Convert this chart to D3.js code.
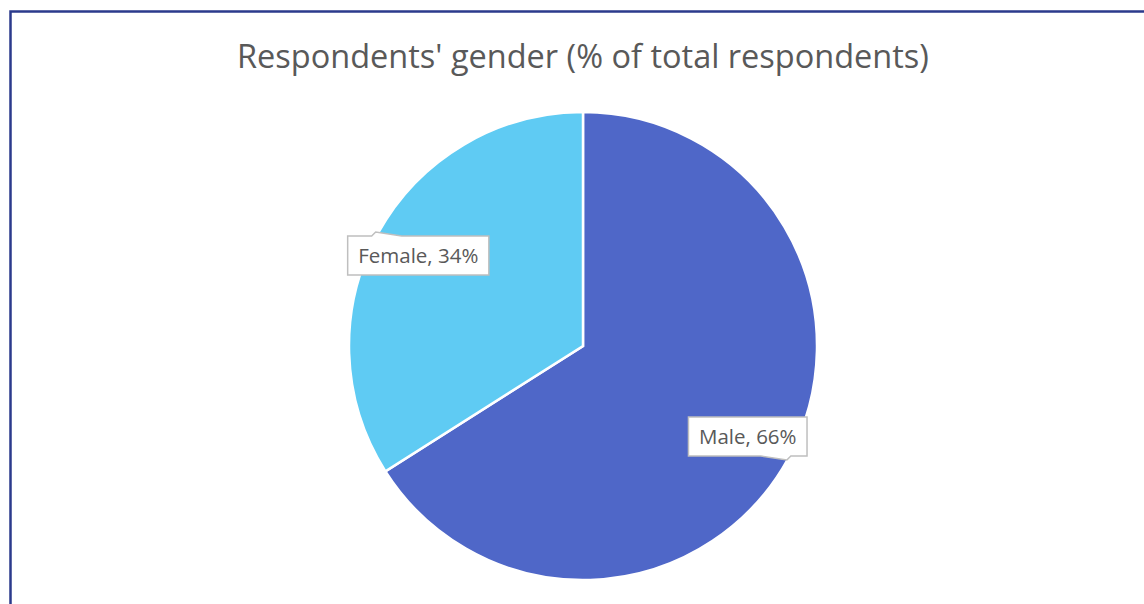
<!DOCTYPE html>
<html>
<head>
<meta charset="utf-8">
<script src="https://cdn.jsdelivr.net/npm/d3@7"></script>
<style>
  body { margin: 0; background: #fff; }
  svg { display: block; font-family: "Open Sans", Lato, sans-serif; }
</style>
</head>
<body>
<div id="chart"></div>
<script>
// Chart data
let categories = ["Male", "Female"];
let values = [66, 34];
let colors = ["#4F67C8", "#5FCBF3"];
let title = "Respondents' gender (% of total respondents)";

let width = 1144, height = 604;
let cx = 583, cy = 346, radius = 234;

let svg = d3.select("#chart").append("svg")
    .attr("width", width)
    .attr("height", height);

// Outer frame
svg.append("rect")
    .attr("x", 10.5).attr("y", 11.5)
    .attr("width", width + 20).attr("height", height + 20)
    .attr("fill", "none")
    .attr("stroke", "#2B3A8C")
    .attr("stroke-width", 2.5);

// Title
svg.append("text")
    .attr("x", cx)
    .attr("y", 68)
    .attr("text-anchor", "middle")
    .attr("font-size", 32.5)
    .attr("fill", "#595959")
    .text(title);

let data = categories.map(function(c, i) { return {name: c, value: values[i], color: colors[i]}; });

let pie = d3.pie().sort(null).value(function(d) { return d.value; });
let arc = d3.arc().innerRadius(0).outerRadius(radius);
let labelArc = d3.arc().innerRadius(188).outerRadius(188);

let g = svg.append("g").attr("transform", "translate(" + cx + "," + cy + ")");

let arcs = pie(data);

g.selectAll(".slice")
    .data(arcs)
    .enter().append("path")
    .attr("class", "slice")
    .attr("d", arc)
    .attr("fill", function(d) { return d.data.color; })
    .attr("stroke", "#fff")
    .attr("stroke-width", 2.5);

// Callout labels
let labels = g.selectAll(".label")
    .data(arcs)
    .enter().append("g")
    .attr("class", "label")
    .attr("transform", function(d) {
        let c = labelArc.centroid(d);
        return "translate(" + c[0] + "," + c[1] + ")";
    });

labels.append("text")
    .attr("text-anchor", "middle")
    .attr("dy", "0.35em")
    .attr("font-size", 20.5)
    .attr("fill", "#595959")
    .text(function(d) { return d.data.name + ", " + d.data.value + "%"; })
    .each(function(d) {
        let bb = this.getBBox();
        d.bw = bb.width + 21;
        d.bh = 39;
    });

labels.insert("path", "text")
    .attr("fill", "#fff")
    .attr("stroke", "#BFBFBF")
    .attr("stroke-width", 1.5)
    .attr("d", function(d) {
        let w = d.bw, h = d.bh;
        let x0 = -w / 2, x1 = w / 2, y0 = -h / 2, y1 = h / 2;
        let c = labelArc.centroid(d);
        let p = d3.path();
        if (c[1] < 0) {
            // pointer on the top edge, near the left
            let px = x0 + w * 0.17;
            p.moveTo(x0, y0);
            p.lineTo(px, y0);
            p.lineTo(px + 4, y0 - 4);
            p.lineTo(px + 30, y0);
            p.lineTo(x1, y0);
            p.lineTo(x1, y1);
            p.lineTo(x0, y1);
            p.closePath();
        } else {
            // pointer on the bottom edge, near the right
            let px = x1 - w * 0.17;
            p.moveTo(x0, y0);
            p.lineTo(x1, y0);
            p.lineTo(x1, y1);
            p.lineTo(px + 4, y1);
            p.lineTo(px, y1 + 4);
            p.lineTo(px - 26, y1);
            p.lineTo(x0, y1);
            p.closePath();
        }
        return p.toString();
    });
</script>
</body>
</html>
